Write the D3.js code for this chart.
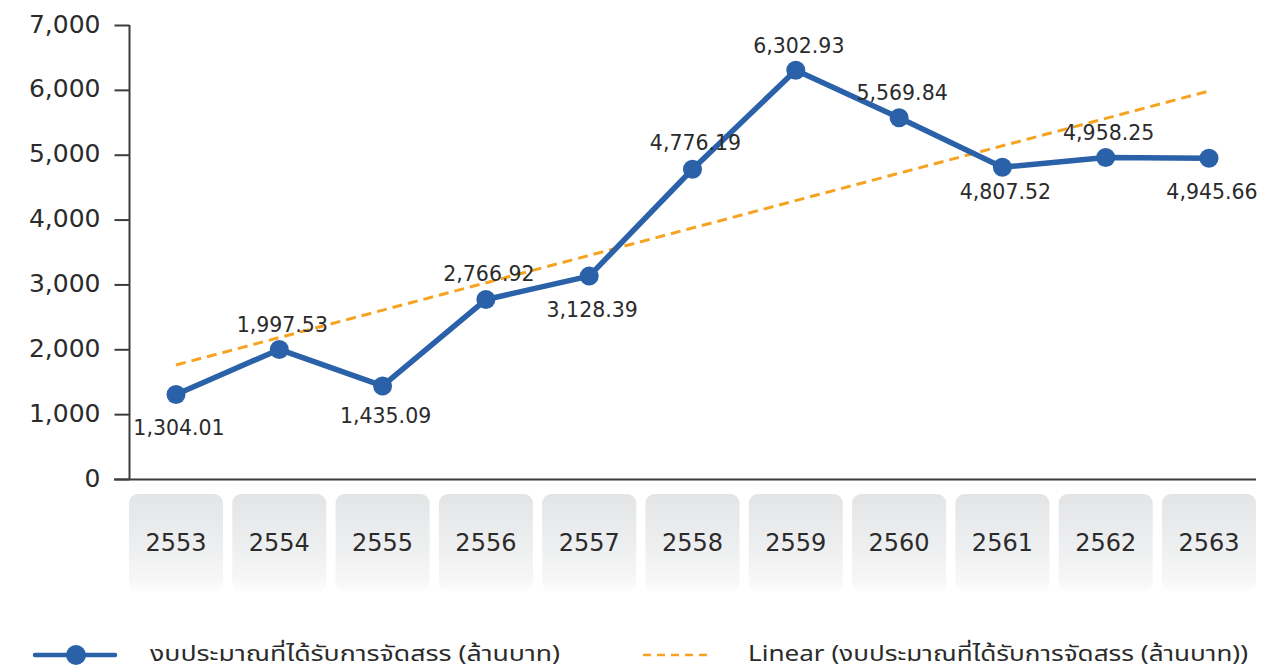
<!DOCTYPE html>
<html>
<head>
<meta charset="utf-8">
<script src="https://cdn.jsdelivr.net/npm/d3@7"></script>
<style>
  html, body { margin: 0; padding: 0; background: #ffffff; }
  svg { display: block; }
</style>
</head>
<body>
<svg id="chart" width="1288" height="671"></svg>
<script>
// Budget allocated per fiscal year (million baht)
const years = ["2553", "2554", "2555", "2556", "2557", "2558", "2559", "2560", "2561", "2562", "2563"];
const budget = [1304.01, 1997.53, 1435.09, 2766.92, 3128.39, 4776.19, 6302.93, 5569.84, 4807.52, 4958.25, 4945.66];
// Linear trend line end values (first and last year)
const trendEnds = [1758, 5982];
const yTicks = [0, 1000, 2000, 3000, 4000, 5000, 6000, 7000];
const seriesName = "งบประมาณที่ได้รับการจัดสรร (ล้านบาท)";
const trendName = "Linear (งบประมาณที่ได้รับการจัดสรร (ล้านบาท))";

// Layout: vertical offset (px) of each value label's baseline from its point
const labelDy = [40.5, -17, 37.5, -18.5, 40.5, -19, -17.5, -18, 32, -17, 41];

const BLUE = "#2a61a8";
const ORANGE = "#f5a320";
const INK = "#2b2b2b";
const AXIS = "#3c3c3c";
const NUM_FONT = "'DejaVu Sans', Verdana, sans-serif";
const THAI_FONT = "'Noto Sans Thai', 'Noto Sans', 'Open Sans', Roboto, sans-serif";

const svg = d3.select("#chart");

const x = d3.scaleBand().domain(years).range([129, 1256]).paddingInner(0.09).paddingOuter(0);
const cx = d => x(d) + x.bandwidth() / 2;
const y = d3.scaleLinear().domain([0, 7000]).range([479, 25]);

// Year boxes with soft vertical gradient
const defs = svg.append("defs");
const grad = defs.append("linearGradient").attr("id", "boxGrad")
  .attr("x1", 0).attr("y1", 0).attr("x2", 0).attr("y2", 1);
grad.append("stop").attr("offset", "0%").attr("stop-color", "#e3e4e6");
grad.append("stop").attr("offset", "55%").attr("stop-color", "#eeeff0");
grad.append("stop").attr("offset", "88%").attr("stop-color", "#f7f7f7");
grad.append("stop").attr("offset", "100%").attr("stop-color", "#fdfdfd");

const boxes = svg.append("g").attr("class", "year-boxes");
boxes.selectAll("rect").data(years).join("rect")
  .attr("x", d => x(d)).attr("y", 494)
  .attr("width", x.bandwidth()).attr("height", 98)
  .attr("rx", 9).attr("ry", 9)
  .attr("fill", "url(#boxGrad)");
boxes.selectAll("text").data(years).join("text")
  .attr("x", d => cx(d)).attr("y", 551)
  .attr("text-anchor", "middle")
  .attr("font-family", NUM_FONT).attr("font-size", 24)
  .attr("fill", INK)
  .text(d => d);

// Y axis
const yAxis = d3.axisLeft(y).tickValues(yTicks).tickFormat(d3.format(",")).tickSize(15).tickPadding(14);
const gy = svg.append("g").attr("transform", "translate(129.5,0)").call(yAxis);
gy.select(".domain").attr("stroke", AXIS).attr("stroke-width", 2).attr("d", `M0,${y(7000)}V${y(0)}`);
gy.selectAll(".tick line").attr("stroke", AXIS).attr("stroke-width", 2);
gy.selectAll(".tick text").attr("font-family", NUM_FONT).attr("font-size", 25).attr("fill", INK).attr("dy", "0.28em");

// X baseline
svg.append("line")
  .attr("x1", 114).attr("x2", 1256)
  .attr("y1", y(0) + 0.5).attr("y2", y(0) + 0.5)
  .attr("stroke", AXIS).attr("stroke-width", 2);

// Trend line
svg.append("line")
  .attr("x1", cx(years[0])).attr("y1", y(trendEnds[0]))
  .attr("x2", cx(years[years.length - 1])).attr("y2", y(trendEnds[1]))
  .attr("stroke", ORANGE).attr("stroke-width", 3)
  .attr("stroke-dasharray", "10,6");

// Budget line with markers
const pts = years.map((yr, i) => ({ yr, v: budget[i], dy: labelDy[i] }));
svg.append("path").datum(pts)
  .attr("d", d3.line().x(d => cx(d.yr)).y(d => y(d.v)))
  .attr("fill", "none").attr("stroke", BLUE).attr("stroke-width", 5.5)
  .attr("stroke-linejoin", "round");
svg.append("g").selectAll("circle").data(pts).join("circle")
  .attr("cx", d => cx(d.yr)).attr("cy", d => y(d.v)).attr("r", 9.5)
  .attr("fill", BLUE);

// Value labels
const fmt = d3.format(",.2f");
svg.append("g").selectAll("text").data(pts).join("text")
  .attr("x", d => cx(d.yr) + 3)
  .attr("y", d => y(d.v) + d.dy)
  .attr("text-anchor", "middle")
  .attr("font-family", NUM_FONT).attr("font-size", 20.5)
  .attr("fill", INK)
  .text(d => fmt(d.v));

// Legend
const lg = svg.append("g").attr("class", "legend");
lg.append("line").attr("x1", 35).attr("x2", 115).attr("y1", 655).attr("y2", 655)
  .attr("stroke", BLUE).attr("stroke-width", 4.5).attr("stroke-linecap", "round");
lg.append("circle").attr("cx", 76).attr("cy", 655).attr("r", 10).attr("fill", BLUE);
lg.append("text").attr("x", 150).attr("y", 661)
  .attr("font-family", THAI_FONT).attr("font-size", 21).attr("fill", INK)
  .attr("textLength", 410).attr("lengthAdjust", "spacingAndGlyphs")
  .text(seriesName);
lg.append("line").attr("x1", 643).attr("x2", 707).attr("y1", 655).attr("y2", 655)
  .attr("stroke", ORANGE).attr("stroke-width", 2.5).attr("stroke-dasharray", "8,6");
lg.append("text").attr("x", 748).attr("y", 661)
  .attr("font-family", THAI_FONT).attr("font-size", 21).attr("fill", INK)
  .attr("textLength", 500).attr("lengthAdjust", "spacingAndGlyphs")
  .text(trendName);
</script>
</body>
</html>
